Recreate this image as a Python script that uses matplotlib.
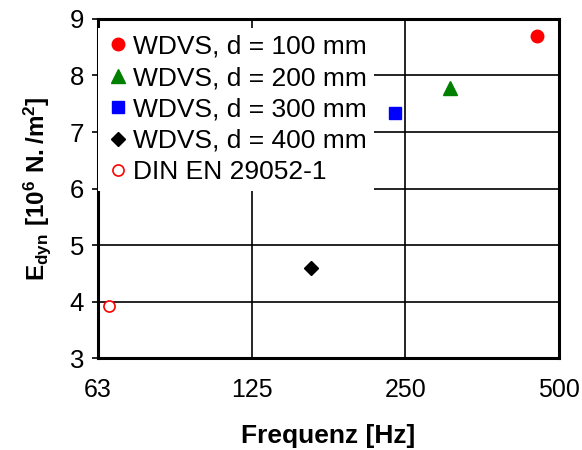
import matplotlib
matplotlib.use("Agg")
import matplotlib.pyplot as plt

plt.rcParams['font.family'] = ['Liberation Sans', 'DejaVu Sans']
plt.rcParams['mathtext.fontset'] = 'custom'
plt.rcParams['mathtext.rm'] = 'Liberation Sans:bold'
plt.rcParams['mathtext.bf'] = 'Liberation Sans:bold'

# values
labels = ['WDVS, d = 100 mm', 'WDVS, d = 200 mm', 'WDVS, d = 300 mm',
          'WDVS, d = 400 mm', 'DIN EN 29052-1']
freq = [452, 305, 238, 163, 65.6]
edyn = [8.70, 7.78, 7.33, 4.60, 3.92]
x_ticks = [62.5, 125, 250, 500]
x_tick_labels = ['63', '125', '250', '500']

styles = [
    dict(marker='o', color='red', ms=9),
    dict(marker='^', color='green', ms=10),
    dict(marker='s', color='blue', ms=9),
    dict(marker='D', color='black', ms=7.5),
    dict(marker='o', mfc='white', mec='red', ms=8, mew=1.2),
]

fig = plt.figure(figsize=(5.82, 4.5), dpi=100)
ax = fig.add_axes([0.168, 0.204, 0.793, 0.754])

for f, e, lab, st in zip(freq, edyn, labels, styles):
    st = dict(st)
    if 'color' in st:
        c = st.pop('color')
        st['mfc'] = c
        st['mec'] = c
    ax.plot([f], [e], linestyle='none', label=lab, zorder=3, **st)

ax.set_xscale('log', base=2)
ax.set_xlim(62.5, 500)
ax.set_ylim(3, 9)
ax.set_xticks(x_ticks)
ax.set_xticklabels(x_tick_labels)
ax.minorticks_off()
ax.set_yticks(range(3, 10))
ax.grid(True, color='black', linewidth=1.2)
ax.set_axisbelow(True)

for s in ax.spines.values():
    s.set_linewidth(2.2)

ax.tick_params(axis='y', direction='out', length=4, width=1.2, labelsize=18.5, pad=6)
ax.tick_params(axis='x', direction='out', length=0, labelsize=18, pad=14)

ax.set_xlabel('Frequenz [Hz]', fontsize=19, fontweight='bold', labelpad=16)
ax.set_ylabel(r'$\mathbf{E_{dyn}\ [10^6\ N./m^2]}$', fontsize=17.5, labelpad=12)

leg = ax.legend(loc='upper left', bbox_to_anchor=(0.0, 0.973),
                fontsize=19, frameon=True, fancybox=False,
                edgecolor='none', facecolor='white', framealpha=1,
                handletextpad=0.1, handlelength=1.0, borderpad=0.25,
                labelspacing=0.28, borderaxespad=0.0)

fig.savefig('out.png', dpi=100)
